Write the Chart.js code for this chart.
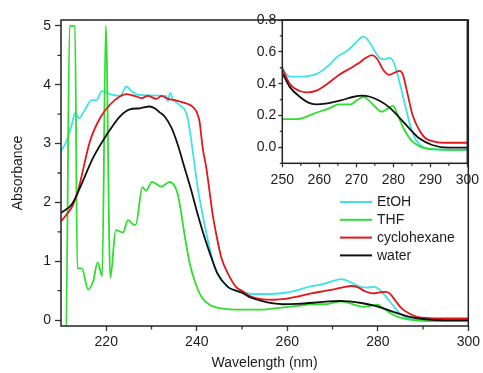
<!DOCTYPE html>
<html>
<head>
<meta charset="utf-8">
<script src="https://cdn.jsdelivr.net/npm/chart.js@4/dist/chart.umd.min.js"></script>
<style>
  html, body { margin: 0; padding: 0; background: #fff; }
  #wrap { position: relative; width: 483px; height: 373px; }
  #main { position: absolute; left: 0; top: 0; }
  #inset { position: absolute; left: 240px; top: 0; }
</style>
</head>
<body>
<div id="wrap">
  <canvas id="main" width="483" height="373"></canvas>
  <canvas id="inset" width="243" height="200"></canvas>
</div>
<script>
// --- SPECTRA (wavelength in nm, absorbance) ---
const etohNm = [210, 211.2, 212.4, 213.1, 214, 215.3, 216.8, 217.9, 219, 219.7, 221.2, 223, 224.5, 225.6, 227, 230,
  233.2, 233.6, 234.1, 234.8, 235.5, 236.6, 237.3, 238, 238.8, 239.5, 240.2, 241, 241.7, 242.8, 243.9, 245.4, 247.6,
  250, 252, 254.7, 259.6, 262.7, 264.9, 267.1, 268.8, 270.6, 271.8, 272.8, 274.6, 276.4, 277.7, 279, 279.9, 280.8,
  282.1, 283.4, 284.8, 286.1, 287.9, 290.5, 300];
const etohAbs = [2.87, 3.04, 3.32, 3.52, 3.43, 3.58, 3.74, 3.74, 3.89, 3.88, 3.83, 3.81, 3.97, 3.89, 3.83, 3.82,
  3.81, 3.72, 3.86, 3.74, 3.70, 3.63, 3.58, 3.43, 3.04, 2.65, 2.25, 1.91, 1.63, 1.24, 0.90, 0.68, 0.53,
  0.49, 0.444, 0.444, 0.465, 0.518, 0.57, 0.60, 0.633, 0.675, 0.696, 0.685, 0.62, 0.56, 0.553, 0.564, 0.545, 0.486,
  0.37, 0.245, 0.12, 0.046, 0.004, -0.013, -0.016];

const thfNm = [210, 211.1, 211.9, 213.1, 213.6, 214.6, 216, 217.1, 218.1, 219.1, 219.9, 220.9, 222.1, 223.7, 224.8,
  225.9, 226.5, 228, 228.8, 230.1, 232.2, 234, 235.1, 235.8, 236.4, 237.3, 238.4, 239.7, 241, 242.8, 245.4,
  250, 254.2, 258.7, 262.7, 265.3, 268.4, 270.2, 272, 273.3, 275.1, 276.8, 278.6, 279.9, 281.2, 283, 284.8, 287,
  290.5, 300];
const thfAbs = [-0.3, -0.3, 5.0, 5.0, 0.88, 0.88, 0.52, 0.66, 0.98, 0.75, 5.0, 0.72, 1.53, 1.49, 1.70,
  1.63, 1.62, 2.26, 2.20, 2.35, 2.27, 2.35, 2.28, 2.14, 1.90, 1.45, 0.98, 0.63, 0.40, 0.26, 0.20,
  0.178, 0.178, 0.214, 0.245, 0.27, 0.27, 0.297, 0.318, 0.297, 0.255, 0.224, 0.245, 0.262, 0.203, 0.109, 0.046, 0.008,
  -0.011, -0.016];

const cyclohexaneNm = [210, 211.5, 212.6, 213.7, 216.4, 218.6, 220.8, 223, 224.5, 226.7, 227.8, 229.2, 231.1, 232.2,
  233.6, 235.5, 237.3, 238.4, 239.9, 240.6, 241.3, 242.1, 242.8, 243.5, 244.3, 245.4, 246.9, 248.7,
  250, 252, 254.7, 256.9, 259.6, 262.2, 265.3, 268.4, 270.6, 272.4, 274.2, 275.5, 277.3, 278.9, 280.4, 281.7, 282.6,
  283.9, 285.2, 287, 288.7, 291.4, 294.9, 300];
const cyclohexaneAbs = [1.68, 1.82, 1.95, 2.18, 3.04, 3.43, 3.66, 3.80, 3.84, 3.80, 3.77, 3.81, 3.76, 3.81,
  3.76, 3.73, 3.69, 3.66, 3.55, 3.38, 2.93, 2.59, 2.20, 1.80, 1.46, 1.07, 0.79, 0.56,
  0.497, 0.40, 0.354, 0.346, 0.36, 0.40, 0.455, 0.497, 0.528, 0.56, 0.58, 0.56, 0.486, 0.455, 0.47, 0.48, 0.455,
  0.33, 0.203, 0.109, 0.057, 0.035, 0.029, 0.029];

const waterNm = [210, 212.4, 214.2, 217.1, 220.1, 223, 225.2, 227.4, 229.6, 230.7, 231.8, 232.9, 234.4, 235.8,
  237.3, 238.8, 240.2, 241.7, 243.2, 244.6, 246.9, 248.3,
  250, 252, 254.7, 256.9, 259.1, 262.2, 265.8, 269.3, 271.5, 273.7, 276.4, 279, 281.7, 284.3, 287, 290.5, 294.9, 300];
const waterAbs = [1.82, 1.97, 2.25, 2.76, 3.15, 3.46, 3.58, 3.60, 3.63, 3.60, 3.53, 3.46, 3.27, 2.98,
  2.59, 2.20, 1.80, 1.41, 1.07, 0.79, 0.56, 0.51,
  0.465, 0.38, 0.318, 0.283, 0.27, 0.277, 0.295, 0.318, 0.325, 0.318, 0.291, 0.25, 0.186, 0.12, 0.057, 0.015, -0.002, -0.002];

const seriesLabels = ['EtOH', 'THF', 'cyclohexane', 'water'];
const seriesColors = ['#3fe3ea', '#2fde2f', '#e3161c', '#111111'];

// minor tick positions (unlabelled)
const mainMinorX = [230, 250, 270, 290];
const mainMinorY = [0.5, 1.5, 2.5, 3.5, 4.5];
const insetMinorX = [255, 265, 275, 285, 295];
const insetMinorY = [-0.1, 0.1, 0.3, 0.5, 0.7];

const FONT = 'Liberation Sans, Arial, Helvetica, sans-serif';
const TEXT = '#1c1c1c';

function pts(nm, abs) {
  return nm.map((x, i) => ({ x: x, y: abs[i] }));
}

function makeDatasets() {
  const all = [[etohNm, etohAbs], [thfNm, thfAbs], [cyclohexaneNm, cyclohexaneAbs], [waterNm, waterAbs]];
  return all.map((s, i) => ({
    label: seriesLabels[i],
    data: pts(s[0], s[1]),
    borderColor: seriesColors[i],
    borderWidth: 1.8,
    pointRadius: 0,
    fill: false,
    cubicInterpolationMode: 'monotone',
    order: 4 - i
  }));
}

// full box round the plot area
const framePlugin = {
  id: 'frame',
  afterDraw(chart) {
    const a = chart.chartArea;
    const ctx = chart.ctx;
    ctx.save();
    ctx.strokeStyle = '#222';
    ctx.lineWidth = 1.5;
    ctx.strokeRect(a.left, a.top, a.right - a.left, a.bottom - a.top);
    ctx.restore();
  }
};

// shorter unlabelled ticks between the major ones
function minorTicks(xs, ys, len) {
  return {
    id: 'minorTicks',
    afterDraw(chart) {
      const a = chart.chartArea;
      const ctx = chart.ctx;
      ctx.save();
      ctx.strokeStyle = '#333';
      ctx.lineWidth = 1.3;
      ctx.beginPath();
      xs.forEach((v) => {
        const px = chart.scales.x.getPixelForValue(v);
        ctx.moveTo(px, a.bottom);
        ctx.lineTo(px, a.bottom + len);
      });
      ys.forEach((v) => {
        const py = chart.scales.y.getPixelForValue(v);
        ctx.moveTo(a.left, py);
        ctx.lineTo(a.left - len, py);
      });
      ctx.stroke();
      ctx.restore();
    }
  };
}

// legend without box, inside the main plot
const legendPlugin = {
  id: 'innerLegend',
  afterDraw(chart) {
    const ctx = chart.ctx;
    ctx.save();
    ctx.font = '14px ' + FONT;
    ctx.textBaseline = 'middle';
    ctx.fillStyle = TEXT;
    chart.data.datasets.forEach((ds, i) => {
      const y = 202 + i * 17.8;
      ctx.strokeStyle = ds.borderColor;
      ctx.lineWidth = 2;
      ctx.beginPath();
      ctx.moveTo(340, y);
      ctx.lineTo(372, y);
      ctx.stroke();
      ctx.fillText(ds.label, 377, y + 0.5);
    });
    ctx.restore();
  }
};

function axisGrid(len) {
  return { drawOnChartArea: false, drawTicks: true, tickLength: len, tickColor: '#333', tickWidth: 1.3 };
}

// --- MAIN CHART ---
new Chart(document.getElementById('main'), {
  type: 'line',
  data: { datasets: makeDatasets() },
  options: {
    responsive: false,
    animation: false,
    events: [],
    layout: { padding: { left: 0, top: 20, right: 13, bottom: 0 } },
    plugins: { legend: { display: false }, tooltip: { enabled: false } },
    scales: {
      x: {
        type: 'linear', min: 210, max: 300,
        border: { display: false },
        grid: axisGrid(5),
        afterFit: (s) => { s.height = 47; },
        ticks: {
          stepSize: 20, includeBounds: false, autoSkip: false, maxRotation: 0, padding: 3,
          color: TEXT, font: { family: FONT, size: 14 }
        },
        title: { display: true, text: 'Wavelength (nm)', color: TEXT, font: { family: FONT, size: 14 }, padding: { top: 0, bottom: 1 } }
      },
      y: {
        min: -0.1, max: 5.1,
        border: { display: false },
        grid: axisGrid(6),
        afterFit: (s) => { s.width = 61; },
        ticks: {
          stepSize: 1, includeBounds: false, autoSkip: false, padding: 4,
          color: TEXT, font: { family: FONT, size: 14 }
        },
        title: { display: true, text: 'Absorbance', color: TEXT, font: { family: FONT, size: 14 }, padding: { top: 10, bottom: 0 } }
      }
    }
  },
  plugins: [minorTicks(mainMinorX, mainMinorY, 3.5), framePlugin, legendPlugin]
});

// --- INSET (250-300 nm) ---
new Chart(document.getElementById('inset'), {
  type: 'line',
  data: { datasets: makeDatasets() },
  options: {
    responsive: false,
    animation: false,
    events: [],
    layout: { padding: { left: 0, top: 20, right: 12.3, bottom: 0 } },
    plugins: { legend: { display: false }, tooltip: { enabled: false } },
    scales: {
      x: {
        type: 'linear', min: 250, max: 300,
        border: { display: false },
        grid: axisGrid(4),
        afterFit: (s) => { s.height = 36.7; },
        ticks: {
          stepSize: 10, autoSkip: false, maxRotation: 0, padding: 4,
          color: TEXT, font: { family: FONT, size: 14 }
        }
      },
      y: {
        min: -0.1, max: 0.8,
        border: { display: false },
        grid: axisGrid(4),
        afterFit: (s) => { s.width = 42.3; },
        ticks: {
          stepSize: 0.2, includeBounds: false, autoSkip: false, padding: 2,
          color: TEXT, font: { family: FONT, size: 14 },
          callback: (v) => v.toFixed(1)
        }
      }
    }
  },
  plugins: [minorTicks(insetMinorX, insetMinorY, 2.5), framePlugin]
});
</script>
</body>
</html>
